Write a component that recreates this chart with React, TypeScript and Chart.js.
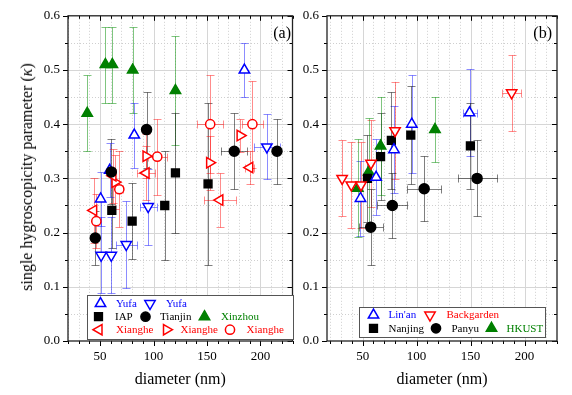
import React, { useEffect, useRef } from 'react';
import { Chart, registerables } from 'chart.js';
Chart.register(...registerables);

const FONT = '"Liberation Serif", "Times New Roman", serif';

// ---------- tick values ----------
const xTickValues = [50, 100, 150, 200];
const yTickValues = [0, 0.1, 0.2, 0.3, 0.4, 0.5, 0.6];

// ---------- panel (a) ----------
const yufaUpX = [185, 82, 59, 50.5];
const yufaUpY = [0.5, 0.38, 0.315, 0.262];
const yufaUpErrY = [0.05, 0.06, 0.05, 0.05];
const yufaUpErrX = [0, 0, 0, 0];

const yufaDownX = [206, 95, 74.5, 51, 60.5];
const yufaDownY = [0.358, 0.248, 0.178, 0.158, 0.158];
const yufaDownErrY = [0.06, 0.07, 0.08, 0.07, 0.07];
const yufaDownErrX = [12, 8, 10, 0, 0];

const iapX = [120.5, 61, 80, 110.5, 151];
const iapY = [0.31, 0.241, 0.221, 0.25, 0.29];
const iapErrY = [0.11, 0.07, 0.07, 0.1, 0.15];
const iapErrX = [0, 0, 0, 0, 0];

const tianjinX = [93.5, 175.5, 215.5, 60.5, 45.5];
const tianjinY = [0.39, 0.35, 0.35, 0.312, 0.19];
const tianjinErrY = [0.07, 0.07, 0.06, 0.06, 0.05];
const tianjinErrX = [0, 12, 0, 0, 0];

const xinzhouX = [38, 55, 61.5, 80.5, 120.5];
const xinzhouY = [0.42, 0.51, 0.51, 0.5, 0.462];
const xinzhouErrY = [0.07, 0.07, 0.07, 0.08, 0.1];
const xinzhouErrX = [0, 0, 0, 0, 0];

const xiangheLX = [44, 62, 93, 162, 190];
const xiangheLY = [0.241, 0.305, 0.31, 0.26, 0.32];
const xiangheLErrY = [0.06, 0.05, 0.05, 0.05, 0.03];
const xiangheLErrX = [0, 0, 8, 15, 4];

const xiangheRX = [64, 93, 152.5, 181];
const xiangheRY = [0.293, 0.341, 0.329, 0.379];
const xiangheRErrY = [0.05, 0.04, 0.05, 0.03];
const xiangheRErrX = [0, 0, 0, 0];

const xiangheCX = [46.5, 68, 103.5, 153, 192.5];
const xiangheCY = [0.221, 0.28, 0.34, 0.4, 0.4];
const xiangheCErrY = [0.05, 0.07, 0.07, 0.09, 0.08];
const xiangheCErrX = [0, 3, 9, 12, 10];

// ---------- panel (b) ----------
const linanX = [48, 62.5, 79, 95.5, 149];
const linanY = [0.263, 0.302, 0.353, 0.4, 0.421];
const linanErrY = [0.07, 0.07, 0.08, 0.09, 0.08];
const linanErrX = [0, 0, 0, 0, 6.5];

const backgardenX = [31, 39.5, 48.5, 57.7, 80, 188];
const backgardenY = [0.3, 0.288, 0.288, 0.328, 0.388, 0.458];
const backgardenErrY = [0.07, 0.08, 0.08, 0.08, 0.09, 0.07];
const backgardenErrX = [0, 0, 0, 0, 0, 8.5];

const nanjingX = [54.5, 66.6, 76.6, 94.6, 149.8];
const nanjingY = [0.3, 0.34, 0.37, 0.38, 0.36];
const nanjingErrY = [0.08, 0.08, 0.09, 0.09, 0.08];
const nanjingErrX = [0, 0, 0, 0, 0];

const panyuX = [57.5, 77.5, 107, 156];
const panyuY = [0.21, 0.25, 0.281, 0.3];
const panyuErrY = [0.07, 0.06, 0.06, 0.07];
const panyuErrX = [11, 14, 16, 18];

const hkustX = [45.5, 55.6, 66.6, 117];
const hkustY = [0.282, 0.312, 0.36, 0.39];
const hkustErrY = [0.09, 0.1, 0.09, 0.06];
const hkustErrX = [0, 0, 0, 0];

// ---------- styles ----------
const BLUE = '#0000ff';
const RED = '#ff0000';
const GREEN = '#008000';
const BLACK = '#000000';
const errColor: Record<string, string> = {
  [BLUE]: 'rgba(0,0,255,0.45)',
  [RED]: 'rgba(255,0,0,0.45)',
  [GREEN]: 'rgba(0,140,0,0.5)',
  [BLACK]: 'rgba(0,0,0,0.5)',
};

type Series = {
  label: string; color: string; style: string; rot: number; filled: boolean; r: number;
  xs: number[]; ys: number[]; ey: number[]; ex: number[];
};

const S = (label: string, color: string, style: string, rot: number, filled: boolean, r: number,
  xs: number[], ys: number[], ey: number[], ex: number[]): Series => ({ label, color, style, rot, filled, r, xs, ys, ey, ex });

const yufaUp = S('Yufa', BLUE, 'triangle', 0, false, 6, yufaUpX, yufaUpY, yufaUpErrY, yufaUpErrX);
const yufaDown = S('Yufa', BLUE, 'triangle', 180, false, 6, yufaDownX, yufaDownY, yufaDownErrY, yufaDownErrX);
const iap = S('IAP', BLACK, 'rect', 0, true, 5.5, iapX, iapY, iapErrY, iapErrX);
const tianjin = S('Tianjin', BLACK, 'circle', 0, true, 5, tianjinX, tianjinY, tianjinErrY, tianjinErrX);
const xinzhou = S('Xinzhou', GREEN, 'triangle', 0, true, 6, xinzhouX, xinzhouY, xinzhouErrY, xinzhouErrX);
const xiangheL = S('Xianghe', RED, 'triangle', 270, false, 6, xiangheLX, xiangheLY, xiangheLErrY, xiangheLErrX);
const xiangheR = S('Xianghe', RED, 'triangle', 90, false, 6, xiangheRX, xiangheRY, xiangheRErrY, xiangheRErrX);
const xiangheC = S('Xianghe', RED, 'circle', 0, false, 4.6, xiangheCX, xiangheCY, xiangheCErrY, xiangheCErrX);

const linan = S("Lin'an", BLUE, 'triangle', 0, false, 6, linanX, linanY, linanErrY, linanErrX);
const backgarden = S('Backgarden', RED, 'triangle', 180, false, 6, backgardenX, backgardenY, backgardenErrY, backgardenErrX);
const nanjing = S('Nanjing', BLACK, 'rect', 0, true, 5.5, nanjingX, nanjingY, nanjingErrY, nanjingErrX);
const panyu = S('Panyu', BLACK, 'circle', 0, true, 5, panyuX, panyuY, panyuErrY, panyuErrX);
const hkust = S('HKUST', GREEN, 'triangle', 0, true, 6, hkustX, hkustY, hkustErrY, hkustErrX);

function drawMarker(ctx: CanvasRenderingContext2D, s: Series, x: number, y: number) {
  ctx.save();
  ctx.translate(x, y);
  ctx.rotate((s.rot * Math.PI) / 180);
  ctx.beginPath();
  if (s.style === 'triangle') {
    for (let k = 0; k < 3; k++) {
      const a = (k * 2 * Math.PI) / 3;
      const px = Math.sin(a) * s.r;
      const py = -Math.cos(a) * s.r;
      if (k === 0) ctx.moveTo(px, py); else ctx.lineTo(px, py);
    }
    ctx.closePath();
  } else if (s.style === 'circle') {
    ctx.arc(0, 0, s.r, 0, Math.PI * 2);
  } else {
    const h = s.r * Math.SQRT1_2;
    ctx.rect(-h, -h, 2 * h, 2 * h);
  }
  ctx.fillStyle = s.filled ? s.color : '#ffffff';
  ctx.fill();
  ctx.lineWidth = 1.5;
  ctx.strokeStyle = s.color;
  ctx.stroke();
  ctx.restore();
}

type LegendItem = { s: Series; mx: number; tx: number; y: number };

function makeDecor(offsetX: number, label: string, labelRight: number,
  box: [number, number, number, number], items: LegendItem[]) {
  return {
    id: 'decor',
    beforeDatasetsDraw(chart: any) {
      const { ctx, chartArea: a, scales } = chart;
      const xs = scales.x, ys = scales.y;
      ctx.save();
      // minor grid (dotted)
      ctx.lineWidth = 1;
      ctx.strokeStyle = '#cfcfcf';
      ctx.setLineDash([1, 2]);
      ctx.beginPath();
      for (let v = Math.ceil(xs.min / 10) * 10; v < xs.max; v += 10) {
        if (v % 50 === 0) continue;
        const p = Math.round(xs.getPixelForValue(v)) + 0.5;
        ctx.moveTo(p, a.top); ctx.lineTo(p, a.bottom);
      }
      for (let k = 1; k < 12; k += 2) {
        const p = Math.round(ys.getPixelForValue(k * 0.05)) + 0.5;
        ctx.moveTo(a.left, p); ctx.lineTo(a.right, p);
      }
      ctx.stroke();
      // major grid (solid)
      ctx.setLineDash([]);
      ctx.strokeStyle = '#d6d6d6';
      ctx.beginPath();
      for (const v of xTickValues) {
        const p = Math.round(xs.getPixelForValue(v)) + 0.5;
        ctx.moveTo(p, a.top); ctx.lineTo(p, a.bottom);
      }
      for (const v of yTickValues) {
        if (v <= 0 || v >= 0.6) continue;
        const p = Math.round(ys.getPixelForValue(v)) + 0.5;
        ctx.moveTo(a.left, p); ctx.lineTo(a.right, p);
      }
      ctx.stroke();
      // error bars
      chart.data.datasets.forEach((ds: any) => {
        ctx.strokeStyle = ds.errColor;
        ctx.lineWidth = 1;
        ctx.beginPath();
        ds.data.forEach((pt: any, j: number) => {
          const cx = Math.round(xs.getPixelForValue(pt.x)) + 0.5;
          const cy = Math.round(ys.getPixelForValue(pt.y)) + 0.5;
          const ey = ds.errY[j], ex = ds.errX[j];
          const cap = 4;
          if (ey) {
            const t = Math.round(ys.getPixelForValue(pt.y + ey)) + 0.5;
            const b = Math.round(ys.getPixelForValue(pt.y - ey)) + 0.5;
            ctx.moveTo(cx, t); ctx.lineTo(cx, b);
            ctx.moveTo(cx - cap, t); ctx.lineTo(cx + cap, t);
            ctx.moveTo(cx - cap, b); ctx.lineTo(cx + cap, b);
          }
          if (ex) {
            const l = Math.round(xs.getPixelForValue(pt.x - ex)) + 0.5;
            const r = Math.round(xs.getPixelForValue(pt.x + ex)) + 0.5;
            ctx.moveTo(l, cy); ctx.lineTo(r, cy);
            ctx.moveTo(l, cy - cap); ctx.lineTo(l, cy + cap);
            ctx.moveTo(r, cy - cap); ctx.lineTo(r, cy + cap);
          }
        });
        ctx.stroke();
      });
      ctx.restore();
    },
    afterDatasetsDraw(chart: any) {
      const { ctx, chartArea: a, scales } = chart;
      const xs = scales.x, ys = scales.y;
      ctx.save();
      // ticks
      ctx.strokeStyle = '#000';
      ctx.lineWidth = 1;
      ctx.beginPath();
      for (let v = Math.ceil(xs.min / 10) * 10; v <= xs.max; v += 10) {
        const len = v % 50 === 0 ? 5 : 3;
        const p = Math.round(xs.getPixelForValue(v)) + 0.5;
        ctx.moveTo(p, a.bottom); ctx.lineTo(p, a.bottom + len);
        ctx.moveTo(p, a.top); ctx.lineTo(p, a.top + len);
      }
      for (let k = 0; k <= 12; k++) {
        const len = k % 2 === 0 ? 5 : 3;
        const p = Math.round(ys.getPixelForValue(k * 0.05)) + 0.5;
        ctx.moveTo(a.left - len, p); ctx.lineTo(a.left, p);
        ctx.moveTo(a.right - len, p); ctx.lineTo(a.right, p);
      }
      ctx.stroke();
      // frame
      ctx.lineWidth = 1.3;
      ctx.strokeStyle = '#222';
      ctx.strokeRect(a.left, a.top, a.right - a.left, a.bottom - a.top);
      // panel label
      ctx.fillStyle = '#000';
      ctx.font = `16px ${FONT}`;
      ctx.textAlign = 'right';
      ctx.textBaseline = 'middle';
      ctx.fillText(label, labelRight - offsetX, 34);
      // legend
      const [bx, by, bw, bh] = box;
      ctx.fillStyle = '#ffffff';
      ctx.fillRect(bx - offsetX, by, bw, bh);
      ctx.lineWidth = 1;
      ctx.strokeStyle = '#555';
      ctx.strokeRect(bx - offsetX + 0.5, by + 0.5, bw, bh);
      ctx.font = `11px ${FONT}`;
      ctx.textAlign = 'left';
      ctx.textBaseline = 'middle';
      for (const it of items) {
        drawMarker(ctx, { ...it.s, r: it.s.style === 'circle' ? 4.6 : it.s.style === 'rect' ? 5.5 : 6 }, it.mx - offsetX, it.y);
        ctx.fillStyle = it.s.color;
        ctx.fillText(it.s.label, it.tx - offsetX, it.y + 0.5);
      }
      ctx.restore();
    },
  };
}

function makeConfig(series: Series[], xMin: number, yAxisWidth: number, padRight: number, plugin: any) {
  return {
    type: 'scatter',
    data: {
      datasets: series.map((s) => ({
        label: s.label,
        data: s.xs.map((x, i) => ({ x, y: s.ys[i] })),
        errY: s.ey,
        errX: s.ex,
        errColor: errColor[s.color],
        showLine: false,
        pointStyle: s.style,
        pointRotation: s.rot,
        rotation: s.rot,
        pointRadius: s.r,
        pointHoverRadius: s.r,
        pointBackgroundColor: s.filled ? s.color : '#ffffff',
        backgroundColor: s.filled ? s.color : '#ffffff',
        pointBorderColor: s.color,
        borderColor: s.color,
        pointBorderWidth: 1.5,
        borderWidth: 1.5,
      })),
    },
    options: {
      responsive: false,
      animation: false,
      events: [],
      layout: { padding: { top: 15, left: 0, right: padRight, bottom: 0 } },
      plugins: { legend: { display: false }, tooltip: { enabled: false } },
      scales: {
        x: {
          type: 'linear',
          min: xMin,
          max: 230,
          grid: { display: false, drawTicks: false },
          border: { display: false },
          afterBuildTicks: (sc: any) => { sc.ticks = xTickValues.map((v) => ({ value: v })); },
          afterFit: (sc: any) => { sc.height = 54; },
          ticks: { color: '#000', padding: 8, font: { family: FONT, size: 13 }, callback: (v: any) => String(v) },
          title: { display: true, text: 'diameter (nm)', color: '#000', font: { family: FONT, size: 16 }, padding: { top: 0, bottom: 6 } },
        },
        y: {
          type: 'linear',
          min: 0,
          max: 0.6,
          grid: { display: false, drawTicks: false },
          border: { display: false },
          afterBuildTicks: (sc: any) => { sc.ticks = yTickValues.map((v) => ({ value: v })); },
          afterFit: (sc: any) => { sc.width = yAxisWidth; },
          ticks: { color: '#000', padding: 8, font: { family: FONT, size: 13 }, callback: (v: any) => Number(v).toFixed(1) },
        },
      },
    },
    plugins: [plugin],
  };
}

export default function App() {
  const refA = useRef<HTMLCanvasElement>(null);
  const refB = useRef<HTMLCanvasElement>(null);

  useEffect(() => {
    const seriesA = [xinzhou, iap, tianjin, yufaUp, yufaDown, xiangheL, xiangheR, xiangheC];
    const seriesB = [backgarden, linan, nanjing, panyu, hkust];
    const legendA: LegendItem[] = [
      { s: yufaUp, mx: 100.5, tx: 116, y: 303.5 },
      { s: yufaDown, mx: 150, tx: 166, y: 303.5 },
      { s: iap, mx: 98.5, tx: 115, y: 316.7 },
      { s: tianjin, mx: 145.5, tx: 160, y: 316.7 },
      { s: xinzhou, mx: 204.5, tx: 221, y: 316.7 },
      { s: xiangheL, mx: 99, tx: 116, y: 329.7 },
      { s: xiangheR, mx: 166.5, tx: 180.5, y: 329.7 },
      { s: xiangheC, mx: 230, tx: 246.5, y: 329.7 },
    ];
    const legendB: LegendItem[] = [
      { s: linan, mx: 373.5, tx: 388.5, y: 315 },
      { s: backgarden, mx: 430, tx: 446.5, y: 315 },
      { s: nanjing, mx: 373.5, tx: 388.5, y: 328.3 },
      { s: panyu, mx: 436, tx: 451.5, y: 328.3 },
      { s: hkust, mx: 491.5, tx: 506.5, y: 328.3 },
    ];
    const pA = makeDecor(0, '(a)', 291, [87, 295, 206, 44], legendA);
    const pB = makeDecor(300, '(b)', 552, [359, 307, 186, 30], legendB);
    const ca = new Chart(refA.current as any, makeConfig(seriesA, 20, 68, 4, pA) as any);
    const cb = new Chart(refB.current as any, makeConfig(seriesB, 17, 27, 15, pB) as any);
    return () => { ca.destroy(); cb.destroy(); };
  }, []);

  return (
    <div style={{ position: 'fixed', left: 0, top: 0, width: 572, height: 395, background: '#fff', overflow: 'hidden' }}>
      <canvas ref={refA} width={300} height={395} style={{ position: 'absolute', left: 0, top: 0, width: 300, height: 395 }} />
      <canvas ref={refB} width={272} height={395} style={{ position: 'absolute', left: 300, top: 0, width: 272, height: 395 }} />
      <div style={{
        position: 'absolute', left: 27, top: 177, transform: 'translate(-50%, -50%) rotate(-90deg)',
        whiteSpace: 'nowrap', fontFamily: FONT, fontSize: 16, color: '#000', lineHeight: '18px',
      }}>
        single hygroscopicity parameter (<i>κ</i>)
      </div>
    </div>
  );
}
